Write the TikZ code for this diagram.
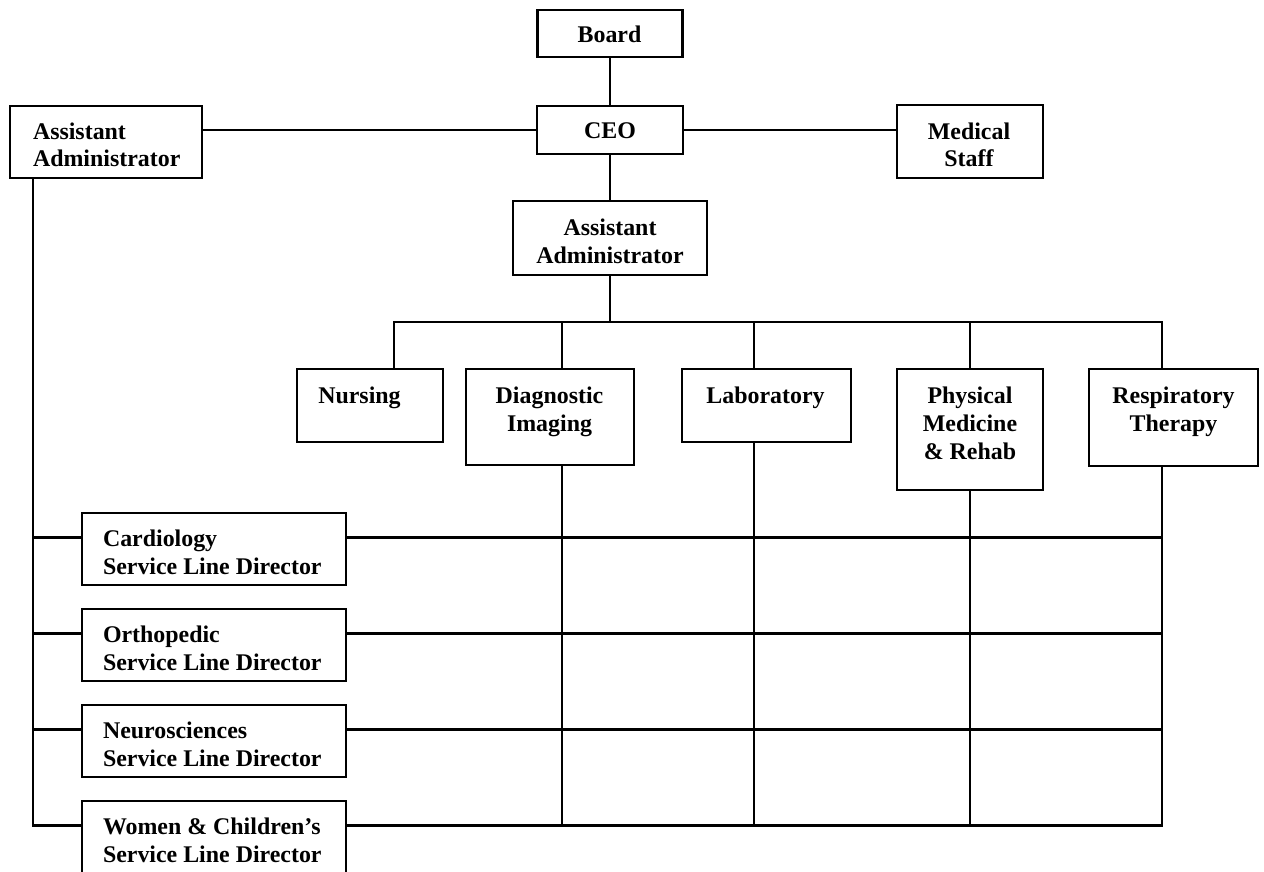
\documentclass[tikz,border=0pt]{standalone}
\usepackage{fontspec}
\setmainfont{Liberation Serif}
\begin{document}
\begin{tikzpicture}[x=1pt,y=-1pt,
  box/.style={draw=black, line width=2.8pt, rectangle, inner sep=0pt, outer sep=0pt},
  conn/.style={draw=black, line width=2.7pt},
  lblc/.style={anchor=north, inner sep=0pt, outer sep=0pt, align=center, font=\fontsize{23.9}{28}\selectfont\bfseries},
  lbll/.style={anchor=north west, inner sep=0pt, outer sep=0pt, align=left, font=\fontsize{23.9}{28}\selectfont\bfseries}]
\useasboundingbox (0,0) rectangle (1264,872);
\fill[white] (0,0) rectangle (1264,872);
% boxes
\node[box, minimum width=145pt, minimum height=47pt] (board) at (610,33.5) {};
\node[box, minimum width=146pt, minimum height=48pt] (ceo) at (610,130) {};
\node[box, minimum width=192pt, minimum height=72pt] (aaL) at (106,142) {};
\node[box, minimum width=146pt, minimum height=73pt] (med) at (970,141.5) {};
\node[box, minimum width=194pt, minimum height=74pt] (aaC) at (610,238) {};
\node[box, minimum width=146pt, minimum height=73pt] (nurs) at (370,405.5) {};
\node[box, minimum width=168pt, minimum height=96pt] (diag) at (550,417) {};
\node[box, minimum width=169pt, minimum height=73pt] (lab) at (766.5,405.5) {};
\node[box, minimum width=146pt, minimum height=121pt] (phys) at (970,429.5) {};
\node[box, minimum width=169pt, minimum height=97pt] (resp) at (1173.5,417.5) {};
\node[box, minimum width=264pt, minimum height=72pt] (card) at (214,549) {};
\node[box, minimum width=264pt, minimum height=72pt] (orth) at (214,645) {};
\node[box, minimum width=264pt, minimum height=72pt] (neuro) at (214,741) {};
\node[box, minimum width=264pt, minimum height=72pt] (women) at (214,837) {};
% labels (first baseline = top + 33.5; strut height 19.6)
\node[lblc] (tboard) at (609.5,23.4) {\strut Board};
\node[lblc] (tceo) at (610,119.4) {\strut CEO};
\node[lbll] (taaL) at (33,119.4) {\strut Assistant\\Administrator};
\node[lblc] (tmed) at (969,119.4) {\strut Medical\\Staff};
\node[lblc] (taaC) at (610,215.4) {\strut Assistant\\Administrator};
\node[lblc] (tnurs) at (359.5,383.4) {\strut Nursing};
\node[lblc] (tdiag) at (549.5,383.4) {\strut Diagnostic\\Imaging};
\node[lblc] (tlab) at (765.5,383.4) {\strut Laboratory};
\node[lblc] (tphys) at (970,383.4) {\strut Physical\\Medicine\\\& Rehab};
\node[lblc] (tresp) at (1173.5,383.4) {\strut Respiratory\\Therapy};
\node[lbll] (tcard) at (103,526.4) {\strut Cardiology\\Service Line Director};
\node[lbll] (torth) at (103,622.4) {\strut Orthopedic\\Service Line Director};
\node[lbll] (tneuro) at (103,718.4) {\strut Neurosciences\\Service Line Director};
\node[lbll] (twomen) at (103,814.4) {\strut Women \& Children’s\\Service Line Director};
% coordinates
\coordinate (dN) at (394,322);
\coordinate (dD) at (562,322);
\coordinate (dL) at (754,322);
\coordinate (dP) at (970,322);
\coordinate (dR) at (1162,322);
\coordinate (s1) at (33,537.5);
\coordinate (s2) at (33,633.5);
\coordinate (s3) at (33,729.5);
\coordinate (s4) at (33,825.5);
\coordinate (e4) at (1162,825.5);
% top connectors
\draw[conn] (board.south) -- (ceo.north);
\draw[conn] (ceo.west) -- (ceo.west -| aaL.east);
\draw[conn] (ceo.east) -- (ceo.east -| med.west);
\draw[conn] (ceo.south) -- (aaC.north);
\draw[conn] (aaC.south) -- (aaC.south |- dN);
\draw[conn] (dN |- nurs.north) -- (dN) -- (dR) -- (dR |- resp.north);
\draw[conn] (dD) -- (dD |- diag.north);
\draw[conn] (dL) -- (dL |- lab.north);
\draw[conn] (dP) -- (dP |- phys.north);
% matrix
\draw[conn] (s1 |- aaL.south) -- (s4) -- (women.west |- s4);
\draw[conn] (s1) -- (s1 -| card.west);
\draw[conn] (s2) -- (s2 -| orth.west);
\draw[conn] (s3) -- (s3 -| neuro.west);
\draw[conn] (s1 -| card.east) -- (s1 -| dR);
\draw[conn] (s2 -| orth.east) -- (s2 -| dR);
\draw[conn] (s3 -| neuro.east) -- (s3 -| dR);
\draw[conn] (women.east |- s4) -- (e4) -- (dR |- resp.south);
\draw[conn] (dD |- diag.south) -- (dD |- s4);
\draw[conn] (dL |- lab.south) -- (dL |- s4);
\draw[conn] (dP |- phys.south) -- (dP |- s4);
\end{tikzpicture}
\end{document}
